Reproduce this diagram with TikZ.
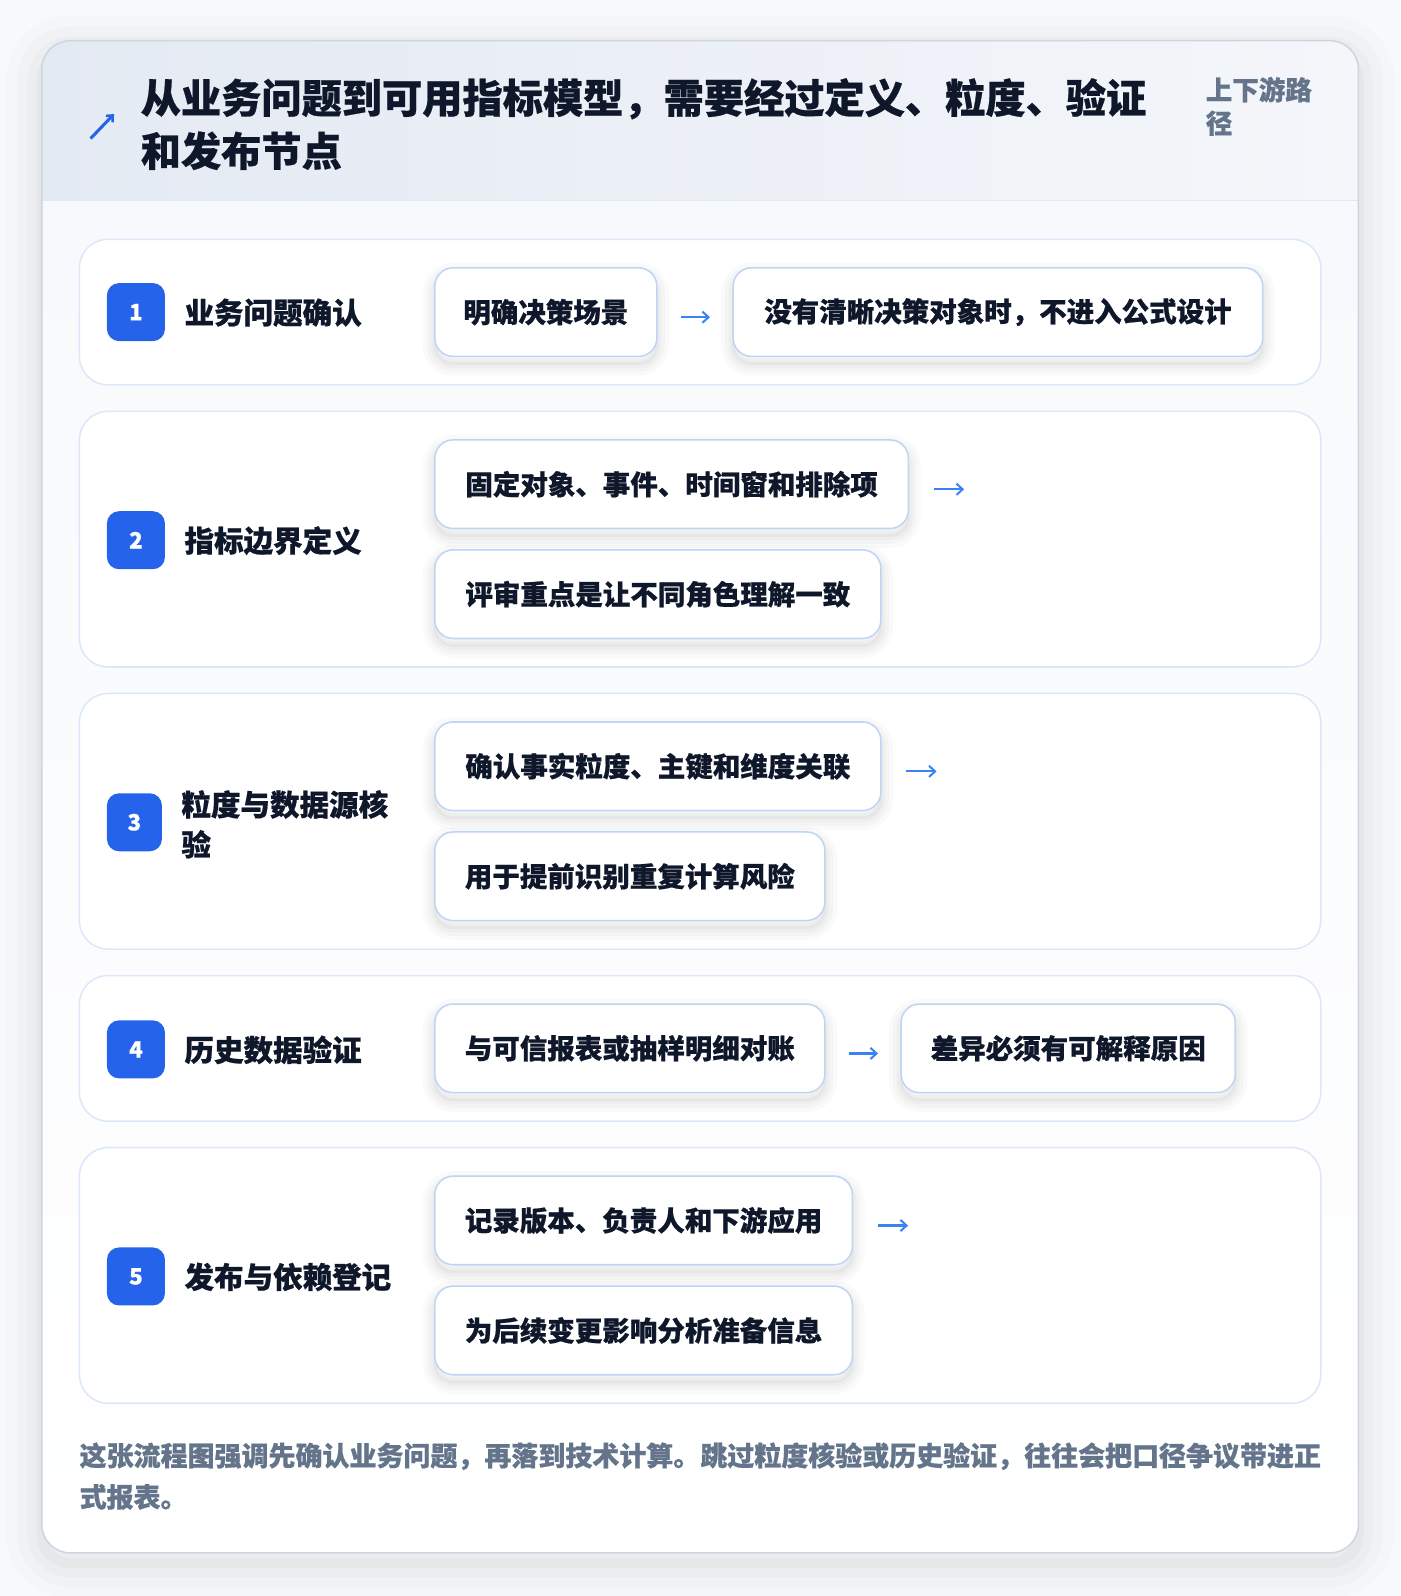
\documentclass[tikz,border=0pt]{standalone}
\usepackage{fontspec}
\setmainfont{Noto Sans CJK SC}[BoldFeatures={FakeBold=0.6}]
\usetikzlibrary{arrows.meta}
\definecolor{bgc}{HTML}{F8F9FB}
\definecolor{bodyt}{HTML}{F7F9FC}
\definecolor{hdl}{HTML}{E4EAF3}
\definecolor{hdr}{HTML}{F4F6FA}
\definecolor{cardline}{HTML}{CCD5E2}
\definecolor{hdline}{HTML}{DCE7F7}
\definecolor{panline}{HTML}{DCE8FA}
\definecolor{boxline}{HTML}{BFD5F5}
\definecolor{badgec}{HTML}{2563EB}
\definecolor{inkc}{HTML}{0F172A}
\definecolor{grayc}{HTML}{64748B}
\definecolor{arrc}{HTML}{3B82F6}
\tikzset{
  softshadow/.style={
    preaction={draw=black,draw opacity=0.018,line width=24pt,transform canvas={yshift=-7pt}},
    preaction={draw=black,draw opacity=0.022,line width=16pt,transform canvas={yshift=-7pt}},
    preaction={draw=black,draw opacity=0.025,line width=9pt,transform canvas={yshift=-7pt}},
    preaction={draw=black,draw opacity=0.03,line width=3pt,transform canvas={yshift=-7pt}}},
  cardshadow/.style={
    preaction={draw=black,draw opacity=0.012,line width=70pt,transform canvas={yshift=-10pt}},
    preaction={draw=black,draw opacity=0.015,line width=48pt,transform canvas={yshift=-10pt}},
    preaction={draw=black,draw opacity=0.018,line width=28pt,transform canvas={yshift=-10pt}},
    preaction={draw=black,draw opacity=0.022,line width=10pt,transform canvas={yshift=-10pt}}},
  panel/.style={draw=panline,line width=1.5pt,fill=white,rounded corners=28pt},
  stepbox/.style={draw=boxline,line width=1.5pt,fill=white,rounded corners=18pt,
    minimum height=87pt,inner sep=0pt,text=inkc,softshadow,
    font=\bfseries\fontsize{27}{32}\selectfont},
  badge/.style={fill=badgec,rounded corners=12pt,minimum width=57pt,minimum height=57pt,
    inner sep=0pt,text=white,font=\bfseries\fontsize{22}{26}\selectfont},
  steplabel/.style={anchor=west,inner sep=0pt,text=inkc,font=\bfseries\fontsize{29}{34}\selectfont},
  flow/.style={draw=arrc,line width=2.2pt,-{Straight Barb[length=6pt,width=11pt,line width=2pt]}},
  titletext/.style={anchor=west,inner sep=0pt,text=inkc,font=\bfseries\fontsize{39.5}{46}\selectfont},
  notetext/.style={anchor=west,inner sep=0pt,text=grayc,font=\bfseries\fontsize{26.5}{32}\selectfont},
}
\begin{document}
\begin{tikzpicture}[x=1pt,y=-1pt]
\useasboundingbox (0,0) rectangle (1375,1567.3);
\fill[bgc] (0,0) rectangle (1375,1567.3);
% card
\path[fill=white,rounded corners=28pt,cardshadow] (41,40) rectangle (1334,1525);
\begin{scope}
\clip[rounded corners=28pt] (41,40) rectangle (1334,1525);
\shade[top color=bodyt,bottom color=white] (41,197) rectangle (1334,1525);
\shade[left color=hdl,right color=hdr] (41,40) rectangle (1334,197);
\end{scope}
\draw[hdline,line width=1.5pt] (41,197) -- (1334,197);
\draw[cardline,line width=1.5pt,rounded corners=28pt] (41,40) rectangle (1334,1525);
% header
\coordinate (icA) at (89,136);
\coordinate (icB) at (112,112);
\draw[badgec,line width=3pt,-{Straight Barb[length=5pt,width=9pt,line width=2.5pt]}] (icA) -- (icB);
\node[titletext] (t1) at (138,97) {从业务问题到可用指标模型，需要经过定义、粒度、验证};
\node[titletext] (t2) at (138,148) {和发布节点};
\node[anchor=west,inner sep=0pt,text=grayc,font=\bfseries\fontsize{26}{30}\selectfont] (s1) at (1184,88) {上下游路};
\node[anchor=west,inner sep=0pt,text=grayc,font=\bfseries\fontsize{26}{30}\selectfont] (s2) at (1184,121) {径};
% panels
\path[panel] (78,235) rectangle (1297,378);
\path[panel] (78,404) rectangle (1297,655);
\path[panel] (78,681) rectangle (1297,932);
\path[panel] (78,958) rectangle (1297,1101);
\path[panel] (78,1127) rectangle (1297,1378);
% row 1
\node[badge] (b1) at (133.5,306.5) {1};
\node[steplabel] (l1) at (181,307) {业务问题确认};
\node[stepbox,minimum width=218pt] (r1a) at (536,306.5) {明确决策场景};
\node[stepbox,minimum width=520pt] (r1b) at (980,306.5) {没有清晰决策对象时，不进入公式设计};
\draw[flow] ([xshift=23pt,yshift=-5pt]r1a.east) -- ([xshift=-22pt,yshift=-5pt]r1b.west);
% row 2
\node[badge] (b2) at (133.5,530.5) {2};
\node[steplabel] (l2) at (181,531) {指标边界定义};
\node[stepbox,minimum width=465pt] (r2a) at (659.5,475.5) {固定对象、事件、时间窗和排除项};
\node[stepbox,minimum width=438pt] (r2b) at (646,583.5) {评审重点是让不同角色理解一致};
\coordinate (e2) at ([xshift=54pt,yshift=-5pt]r2a.east);
\draw[flow] ([xshift=24pt,yshift=-5pt]r2a.east) -- (e2);
% row 3
\node[badge,minimum width=54pt] (b3) at (132,807.5) {3};
\node[steplabel] (l3a) at (178,790) {粒度与数据源核};
\node[steplabel] (l3b) at (178,829) {验};
\node[stepbox,minimum width=438pt] (r3a) at (646,752.5) {确认事实粒度、主键和维度关联};
\node[stepbox,minimum width=383pt] (r3b) at (618.5,860.5) {用于提前识别重复计算风险};
\coordinate (e3) at ([xshift=54pt,yshift=-5pt]r3a.east);
\draw[flow] ([xshift=24pt,yshift=-5pt]r3a.east) -- (e3);
% row 4
\node[badge] (b4) at (133.5,1030.5) {4};
\node[steplabel] (l4) at (181,1031) {历史数据验证};
\node[stepbox,minimum width=383pt] (r4a) at (618.5,1029.5) {与可信报表或抽样明细对账};
\node[stepbox,minimum width=328pt] (r4b) at (1049,1029.5) {差异必须有可解释原因};
\draw[flow] ([xshift=23pt,yshift=-5pt]r4a.east) -- ([xshift=-22pt,yshift=-5pt]r4b.west);
% row 5
\node[badge] (b5) at (133.5,1253.5) {5};
\node[steplabel] (l5) at (181,1254) {发布与依赖登记};
\node[stepbox,minimum width=410pt] (r5a) at (632,1198.5) {记录版本、负责人和下游应用};
\node[stepbox,minimum width=410pt] (r5b) at (632,1306.5) {为后续变更影响分析准备信息};
\coordinate (e5) at ([xshift=54pt,yshift=-5pt]r5a.east);
\draw[flow] ([xshift=24pt,yshift=-5pt]r5a.east) -- (e5);
% footer note
\node[notetext] (n1) at (78,1430) {这张流程图强调先确认业务问题，再落到技术计算。跳过粒度核验或历史验证，往往会把口径争议带进正};
\node[notetext] (n2) at (78,1470) {式报表。};
\end{tikzpicture}
\end{document}
